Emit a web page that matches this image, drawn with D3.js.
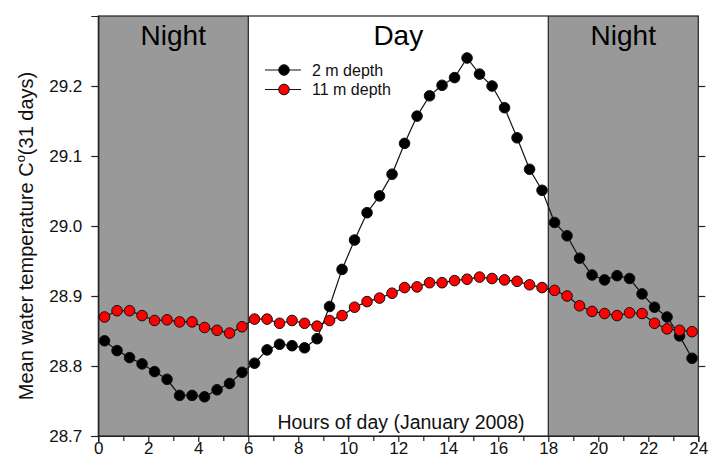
<!DOCTYPE html>
<html>
<head>
<meta charset="utf-8">
<script src="https://cdn.jsdelivr.net/npm/d3@7"></script>
<style>
  html, body { margin: 0; padding: 0; background: #fff; }
  svg { display: block; font-family: "Liberation Sans", Arial, sans-serif; }
</style>
</head>
<body>
<svg id="chart" width="713" height="458"></svg>
<script>
// Half-hourly mean water temperature, January 2008 (31-day average)
const hours = d3.range(48).map(i => 0.25 + i * 0.5);

const depth2m = [
  28.836, 28.822, 28.812, 28.803, 28.792, 28.781, 28.758, 28.758,
  28.756, 28.766, 28.775, 28.791, 28.804, 28.823, 28.831, 28.829,
  28.826, 28.839, 28.885, 28.938, 28.980, 29.019, 29.043, 29.074,
  29.118, 29.157, 29.186, 29.201, 29.212, 29.240, 29.217, 29.200,
  29.169, 29.126, 29.081, 29.051, 29.005, 28.986, 28.954, 28.930,
  28.923, 28.929, 28.925, 28.903, 28.884, 28.870, 28.843, 28.811
];

const depth11m = [
  28.870, 28.879, 28.879, 28.872, 28.865, 28.866, 28.863, 28.863,
  28.855, 28.851, 28.847, 28.856, 28.867, 28.867, 28.861, 28.865,
  28.861, 28.857, 28.865, 28.872, 28.884, 28.892, 28.897, 28.904,
  28.912, 28.913, 28.919, 28.919, 28.922, 28.924, 28.927, 28.925,
  28.923, 28.921, 28.916, 28.912, 28.908, 28.900, 28.886, 28.878,
  28.875, 28.872, 28.876, 28.875, 28.861, 28.853, 28.851, 28.849
];

const periods = [
  { label: "Night", start: 0, end: 6, shaded: true },
  { label: "Day", start: 6, end: 18, shaded: false },
  { label: "Night", start: 18, end: 24, shaded: true }
];

const xTicks = [0, 2, 4, 6, 8, 10, 12, 14, 16, 18, 20, 22, 24];
const xMinorTicks = [1, 3, 5, 7, 9, 11, 13, 15, 17, 19, 21, 23];
const yTicks = [28.7, 28.8, 28.9, 29.0, 29.1, 29.2];

const seriesList = [
  { name: "2 m depth", values: depth2m, fill: "#000000" },
  { name: "11 m depth", values: depth11m, fill: "#ff0000" }
];

const svg = d3.select("#chart");
const plotLeft = 98.3, plotRight = 698.3, plotTop = 16, plotBottom = 436;

const x = d3.scaleLinear().domain([0, 24]).range([plotLeft, plotRight]);
const y = d3.scaleLinear().domain([28.7, 29.3]).range([plotBottom, plotTop]);

// Day / night background bands
svg.append("g").selectAll("rect")
  .data(periods.filter(p => p.shaded))
  .join("rect")
  .attr("x", d => x(d.start))
  .attr("y", plotTop)
  .attr("width", d => x(d.end) - x(d.start))
  .attr("height", plotBottom - plotTop)
  .attr("fill", "#999999");

// Band boundaries
svg.append("g").selectAll("line")
  .data([6, 18])
  .join("line")
  .attr("x1", d => x(d)).attr("x2", d => x(d))
  .attr("y1", plotTop).attr("y2", plotBottom)
  .attr("stroke", "#222").attr("stroke-width", 1.2);

// Band labels
svg.append("g").selectAll("text")
  .data(periods)
  .join("text")
  .attr("x", d => x((d.start + d.end) / 2))
  .attr("y", 45)
  .attr("text-anchor", "middle")
  .attr("font-size", 28)
  .attr("fill", "#000")
  .text(d => d.label);

// Frame
svg.append("rect")
  .attr("x", plotLeft).attr("y", plotTop)
  .attr("width", plotRight - plotLeft).attr("height", plotBottom - plotTop)
  .attr("fill", "none").attr("stroke", "#222").attr("stroke-width", 1.2);

// Axes
const xAxis = svg.append("g")
  .attr("transform", `translate(0,${plotBottom})`)
  .call(d3.axisBottom(x).tickValues(xTicks).tickFormat(d3.format("d")).tickSize(6).tickPadding(0));
svg.append("g")
  .attr("transform", `translate(0,${plotBottom})`)
  .call(d3.axisBottom(x).tickValues(xMinorTicks).tickFormat("").tickSize(5))
  .call(g => g.select(".domain").remove());

const yAxis = svg.append("g")
  .attr("transform", `translate(${plotLeft},0)`)
  .call(d3.axisLeft(y).tickValues(yTicks).tickFormat(d3.format(".1f")).tickSize(7).tickPadding(9));
svg.append("g")
  .attr("transform", `translate(${plotRight},0)`)
  .call(d3.axisRight(y).tickValues(yTicks.slice(1)).tickFormat("").tickSize(7))
  .call(g => g.select(".domain").remove());

svg.selectAll(".domain").attr("stroke", "#222").attr("stroke-width", 1.2);
svg.selectAll(".tick line").attr("stroke", "#222").attr("stroke-width", 1.2);
xAxis.selectAll("text").attr("font-size", 17).attr("fill", "#111").attr("font-family", "Liberation Sans, Arial, sans-serif");
yAxis.selectAll("text").attr("font-size", 17).attr("fill", "#111").attr("font-family", "Liberation Sans, Arial, sans-serif");

// Axis titles
svg.append("text")
  .attr("x", 401).attr("y", 429)
  .attr("text-anchor", "middle")
  .attr("font-size", 19.5)
  .attr("fill", "#111")
  .text("Hours of day (January 2008)");

const yTitle = svg.append("text")
  .attr("transform", "translate(33,236) rotate(-90)")
  .attr("text-anchor", "middle")
  .attr("font-size", 20)
  .attr("fill", "#111");
yTitle.append("tspan").text("Mean water temperature C");
yTitle.append("tspan").attr("font-size", 13).attr("dy", -8).text("o");
yTitle.append("tspan").attr("dy", 8).text("(31 days)");

// Series lines and markers
const line = d3.line().x((d, i) => x(hours[i])).y(d => y(d));

seriesList.forEach(s => {
  svg.append("path")
    .datum(s.values)
    .attr("d", line)
    .attr("fill", "none")
    .attr("stroke", "#111")
    .attr("stroke-width", 1.2);
  svg.append("g").selectAll("circle")
    .data(s.values)
    .join("circle")
    .attr("cx", (d, i) => x(hours[i]))
    .attr("cy", d => y(d))
    .attr("r", 5.3)
    .attr("fill", s.fill)
    .attr("stroke", "#111")
    .attr("stroke-width", 1);
});

// Legend
const legend = svg.append("g").attr("transform", "translate(265,70)");
const rows = legend.selectAll("g")
  .data(seriesList)
  .join("g")
  .attr("transform", (d, i) => `translate(0,${i * 19.5})`);
rows.append("line")
  .attr("x1", 0).attr("x2", 36).attr("y1", 0).attr("y2", 0)
  .attr("stroke", "#111").attr("stroke-width", 1.2);
rows.append("circle")
  .attr("cx", 19).attr("cy", 0).attr("r", 5.3)
  .attr("fill", d => d.fill).attr("stroke", "#111");
rows.append("text")
  .attr("x", 47).attr("y", 0).attr("dy", "0.35em")
  .attr("font-size", 16)
  .attr("fill", "#111")
  .text(d => d.name);
</script>
</body>
</html>
